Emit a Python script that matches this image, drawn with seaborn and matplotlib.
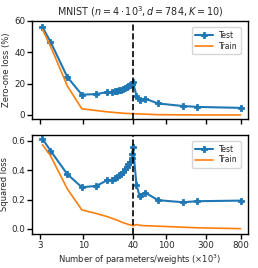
import numpy as np
import pandas as pd
import matplotlib
matplotlib.use("Agg")
import matplotlib.pyplot as plt
import seaborn as sns

# number of parameters (x10^3)
params = [3.19, 3.98, 6.37, 9.55, 14.32, 19.09, 22.27, 23.86, 25.45, 27.04, 28.63,
          30.22, 31.81, 33.40, 34.99, 36.58, 38.17, 38.97, 39.76, 43.74, 47.71,
          55.66, 79.51, 159.0, 238.5, 795.0]

zo_test = [56.0, 46.8, 24.2, 12.9, 13.3, 14.5, 14.8, 15.2, 15.5, 15.8, 16.2,
           16.8, 17.2, 17.8, 18.3, 18.8, 19.5, 20.0, 21.0, 12.0, 9.6,
           10.4, 7.3, 5.7, 5.1, 4.5]
zo_train = [54.5, 44.0, 18.5, 3.9, 2.8, 2.0, 1.7, 1.5, 1.4, 1.3, 1.2,
            1.1, 1.0, 0.95, 0.9, 0.85, 0.8, 0.8, 0.75, 0.7, 0.6,
            0.5, 0.15, 0.05, 0.0, 0.0]

sq_test = [0.613, 0.534, 0.373, 0.284, 0.293, 0.330, 0.335, 0.345, 0.355, 0.365, 0.375,
           0.390, 0.410, 0.425, 0.440, 0.455, 0.480, 0.510, 0.555, 0.298, 0.225,
           0.248, 0.196, 0.182, 0.189, 0.193]
sq_train = [0.573, 0.500, 0.273, 0.130, 0.105, 0.085, 0.072, 0.066, 0.060, 0.054, 0.048,
            0.043, 0.039, 0.035, 0.031, 0.028, 0.025, 0.024, 0.022, 0.030, 0.025,
            0.022, 0.019, 0.012, 0.008, 0.002]

xticks = [3, 10, 40, 100, 300, 800]
threshold = 40

df = pd.DataFrame({"params": params, "zo_test": zo_test, "zo_train": zo_train,
                   "sq_test": sq_test, "sq_train": sq_train})

sns.set_style("ticks")
plt.rcParams['font.family'] = ['DejaVu Sans']
plt.rcParams['mathtext.fontset'] = 'dejavusans'

fig = plt.figure(figsize=(2.58, 2.68), dpi=100)
ax1 = fig.add_axes([0.125, 0.556, 0.836, 0.366])
ax2 = fig.add_axes([0.125, 0.127, 0.836, 0.370], sharex=ax1)

blue = "#1f77b4"
orange = "#ff7f0e"

for ax, te, tr in [(ax1, "zo_test", "zo_train"), (ax2, "sq_test", "sq_train")]:
    sns.lineplot(data=df, x="params", y=te, ax=ax, color=blue, marker="P",
                 markersize=4.5, markeredgewidth=0.6, markeredgecolor=blue,
                 lw=1.5, label="Test")
    sns.lineplot(data=df, x="params", y=tr, ax=ax, color=orange, lw=1.2,
                 label="Train")
    ax.axvline(threshold, color="black", ls="--", lw=1.2)
    ax.set_xscale("log")
    ax.legend(loc="upper right", fontsize=5.5, frameon=True, fancybox=True,
              handlelength=2.3, borderpad=0.45, labelspacing=0.25,
              handletextpad=0.8, bbox_to_anchor=(0.985, 0.975))
    for s in ax.spines.values():
        s.set_color("black")
        s.set_linewidth(1.0)
    ax.tick_params(axis="both", which="major", labelsize=6.3, length=3.5,
                   width=1.0, pad=1.5, color="black")
    ax.tick_params(axis="x", which="minor", length=0)
    ax.set_xlabel("")

ax1.set_xlim(2.4, 975)
ax1.set_xticks(xticks)
ax1.set_xticklabels([str(t) for t in xticks])
ax1.xaxis.set_minor_locator(matplotlib.ticker.NullLocator())
ax1.tick_params(axis="x", labelbottom=False)

ax1.set_ylim(-2.6, 60)
ax1.set_yticks([0, 20, 40, 60])
ax2.set_ylim(-0.034, 0.641)
ax2.set_yticks([0.0, 0.2, 0.4, 0.6])

ax1.set_ylabel("Zero-one loss (%)", fontsize=6, labelpad=2)
ax2.set_ylabel("Squared loss", fontsize=6, labelpad=2)
ax2.set_xlabel(r"Number of parameters/weights ($\times10^3$)", fontsize=6,
               labelpad=2)
ax1.set_title(r"MNIST ($n=4\cdot10^3, d=784, K=10$)", fontsize=6.9, pad=4)

fig.savefig("out.png", dpi=100)
